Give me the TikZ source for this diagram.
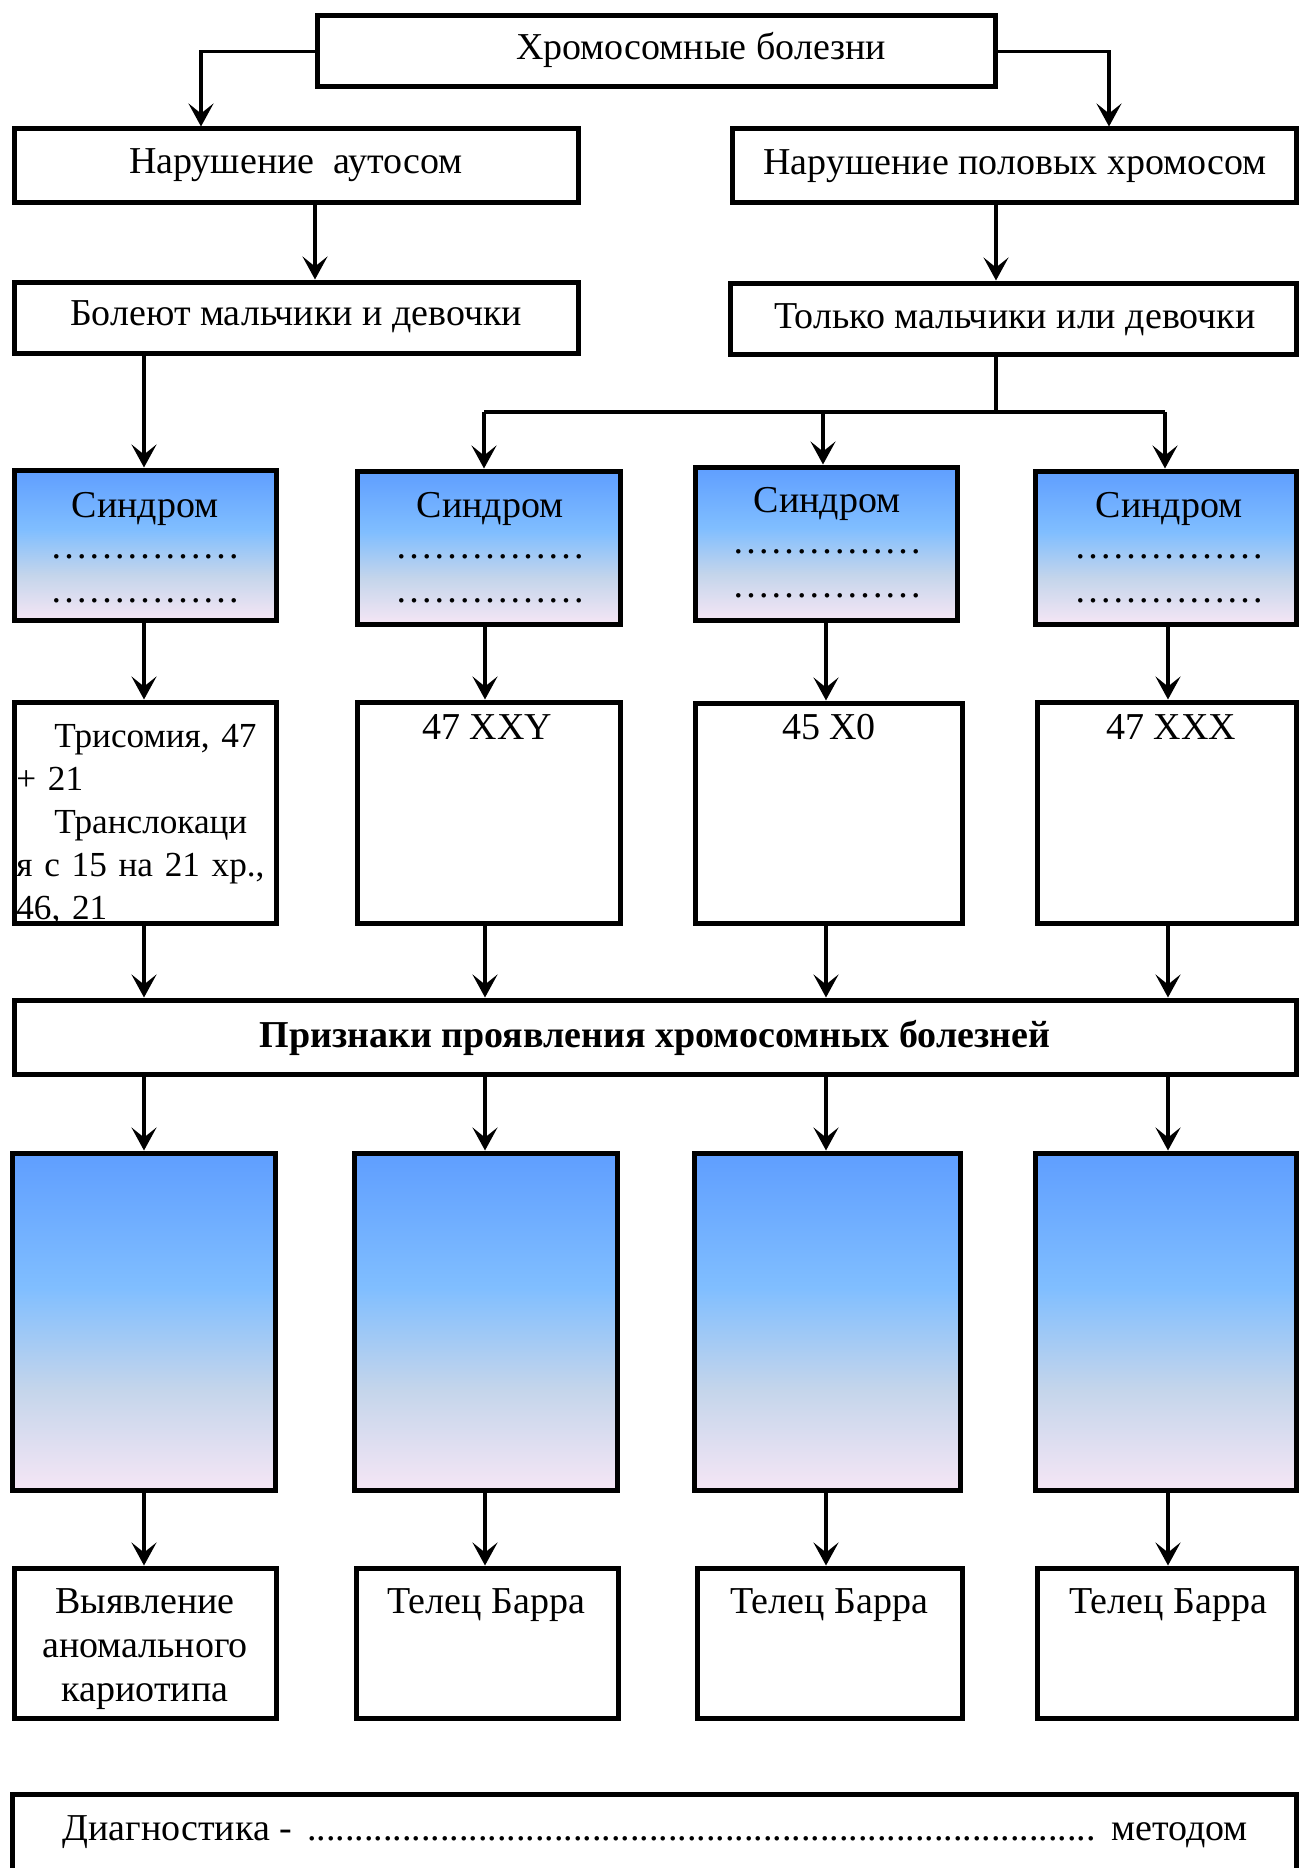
\documentclass[tikz,border=0pt]{standalone}
\usepackage{fontspec}
\setmainfont{Liberation Serif}
\usetikzlibrary{arrows.meta,fit}

\definecolor{gTop}{RGB}{95,158,255}
\definecolor{gLight}{RGB}{128,190,255}
\definecolor{gMist}{RGB}{196,213,235}
\definecolor{gPink}{RGB}{245,230,245}
% blue-to-lavender fill of the syndrome and sign boxes (bottom to top)
\pgfdeclareverticalshading{bluemist}{100bp}{color(0bp)=(gPink); color(25bp)=(gPink); color(40bp)=(gMist); color(55bp)=(gLight); color(75bp)=(gTop); color(100bp)=(gTop)}

\tikzset{
  every node/.style={inner sep=0pt, font=\fontsize{19pt}{22pt}\selectfont},
  box/.style={draw, line width=2.5pt},
  shadedbox/.style={box, shading=bluemist},
  lbl/.style={anchor=base},
  arr/.style={line width=1.6pt, -{Stealth[length=11.5pt,width=12.5pt,inset=5pt]}},
  link/.style={line width=1.6pt},
}

\begin{document}
\begin{tikzpicture}[x=0.5pt, y=-0.5pt]
\useasboundingbox (0,0) rectangle (1300,1868);

% column positions of the vertical connectors
\coordinate (c1) at (144,0);
\coordinate (c2) at (485,0);
\coordinate (c3) at (826,0);
\coordinate (c4) at (1168,0);
\coordinate (la) at (201,0);
\coordinate (ra) at (1109,0);
\coordinate (ab) at (315,0);
\coordinate (ab2) at (996,0);
\coordinate (br2) at (484,0);
\coordinate (br3) at (823,0);
\coordinate (br4) at (1165,0);

% ---------- boxes ----------
\node[box, fit={(317,16) (995,87)}] (T) {};
\node[box, fit={(14,129) (578,202)}] (A1) {};
\node[box, fit={(732,129) (1296,202)}] (A2) {};
\node[box, fit={(14,282) (578,353)}] (B1) {};
\node[box, fit={(730,283) (1296,354)}] (B2) {};

\node[shadedbox, fit={(14,470) (276,620)}] (S1) {};
\node[shadedbox, fit={(357,471) (620,624)}] (S2) {};
\node[shadedbox, fit={(695,467) (957,620)}] (S3) {};
\node[shadedbox, fit={(1035,471) (1296,624)}] (S4) {};

% karyotype text of the first column, cut off by its frame
\begin{scope}
  \clip (16.5,704.5) rectangle (273.5,920.5);
  \node[anchor=base west, text width=200pt, align=left,
        font=\fontsize{17.6pt}{21.5pt}\selectfont] (k1txt) at (16,747)
    {\hspace*{19pt}Трисомия, 47\\+ 21\\\hspace*{19pt}Транслокаци\\я с 15 на 21 хр.,\\46, 21};
\end{scope}

\node[box, fit={(14,702) (276,923)}] (K1) {};
\node[box, fit={(357,702) (620,923)}] (K2) {};
\node[box, fit={(695,703) (962,923)}] (K3) {};
\node[box, fit={(1037,702) (1296,923)}] (K4) {};

\node[box, fit={(14,1000) (1296,1074)}] (P) {};

\node[shadedbox, fit={(12,1153) (275,1490)}] (G1) {};
\node[shadedbox, fit={(354,1153) (617,1490)}] (G2) {};
\node[shadedbox, fit={(694,1153) (960,1490)}] (G3) {};
\node[shadedbox, fit={(1035,1153) (1296,1490)}] (G4) {};

\node[box, fit={(14,1568) (276,1718)}] (L1) {};
\node[box, fit={(356,1568) (618,1718)}] (L2) {};
\node[box, fit={(697,1568) (962,1718)}] (L3) {};
\node[box, fit={(1037,1568) (1296,1718)}] (L4) {};

\node[box, fit={(12,1794) (1296,1900)}] (D) {};

% ---------- texts ----------
\node[lbl] (tT) at (701,60) {Хромосомные болезни};
\node[lbl] (tA1) at (296,173) {Нарушение\ \ аутосом};
\node[lbl] (tA2) at (1015,175) {Нарушение половых хромосом};
\node[lbl] (tB1) at (296,325) {Болеют мальчики и девочки};
\node[lbl] (tB2) at (1015,328) {Только мальчики или девочки};

\foreach \i/\x/\y in {1/145/517, 2/490/517, 3/827/512, 4/1169/517}{
  \node[lbl] (syn\i) at (\x,\y) {Синдром};
  \node[lbl] (dotsA\i) at (\x,\y+41) {……………};
  \node[lbl] (dotsB\i) at (\x,\y+85) {……………};
}

\node[lbl] (k2txt) at (487,739) {47 XXY};
\node[lbl] (k3txt) at (829,739) {45 X0};
\node[lbl] (k4txt) at (1171,739) {47 XXX};

\node[lbl] (ptxt) at (655,1047) {\bfseries Признаки проявления хромосомных болезней};

\node[anchor=base, text width=130pt, align=center] (l1txt) at (145,1613)
  {Выявление\\аномального\\кариотипа};
\node[lbl] (l2txt) at (486,1613) {Телец Барра};
\node[lbl] (l3txt) at (829,1613) {Телец Барра};
\node[lbl] (l4txt) at (1168,1613) {Телец Барра};

\node[anchor=base west] (dtxt) at (62,1840) {Диагностика -};
\node[anchor=base west] (dfill) at (307,1840) {\hbox to 396pt{\leaders\hbox{.}\hfill}};
\node[anchor=base west] (dend) at (1111,1840) {методом};

% ---------- connectors ----------
\draw[arr] (T.west) -| (A1.north -| la);
\draw[arr] (T.east) -| (A2.north -| ra);
\draw[arr] (A1.south -| ab) -- (B1.north -| ab);
\draw[arr] (A2.south -| ab2) -- (B2.north -| ab2);
\draw[arr] (B1.south -| c1) -- (S1.north -| c1);

\coordinate (hub) at (996,412);
\draw[link] (B2.south -| ab2) -- (hub) (hub -| br2) -- (hub -| br4);
\draw[arr] (hub -| br2) -- (S2.north -| br2);
\draw[arr] (hub -| br3) -- (S3.north -| br3);
\draw[arr] (hub -| br4) -- (S4.north -| br4);

\foreach \i in {1,...,4}{
  \draw[arr] (S\i.south -| c\i) -- (K\i.north -| c\i);
  \draw[arr] (K\i.south -| c\i) -- (P.north -| c\i);
  \draw[arr] (P.south -| c\i) -- (G\i.north -| c\i);
  \draw[arr] (G\i.south -| c\i) -- (L\i.north -| c\i);
}
\end{tikzpicture}
\end{document}
